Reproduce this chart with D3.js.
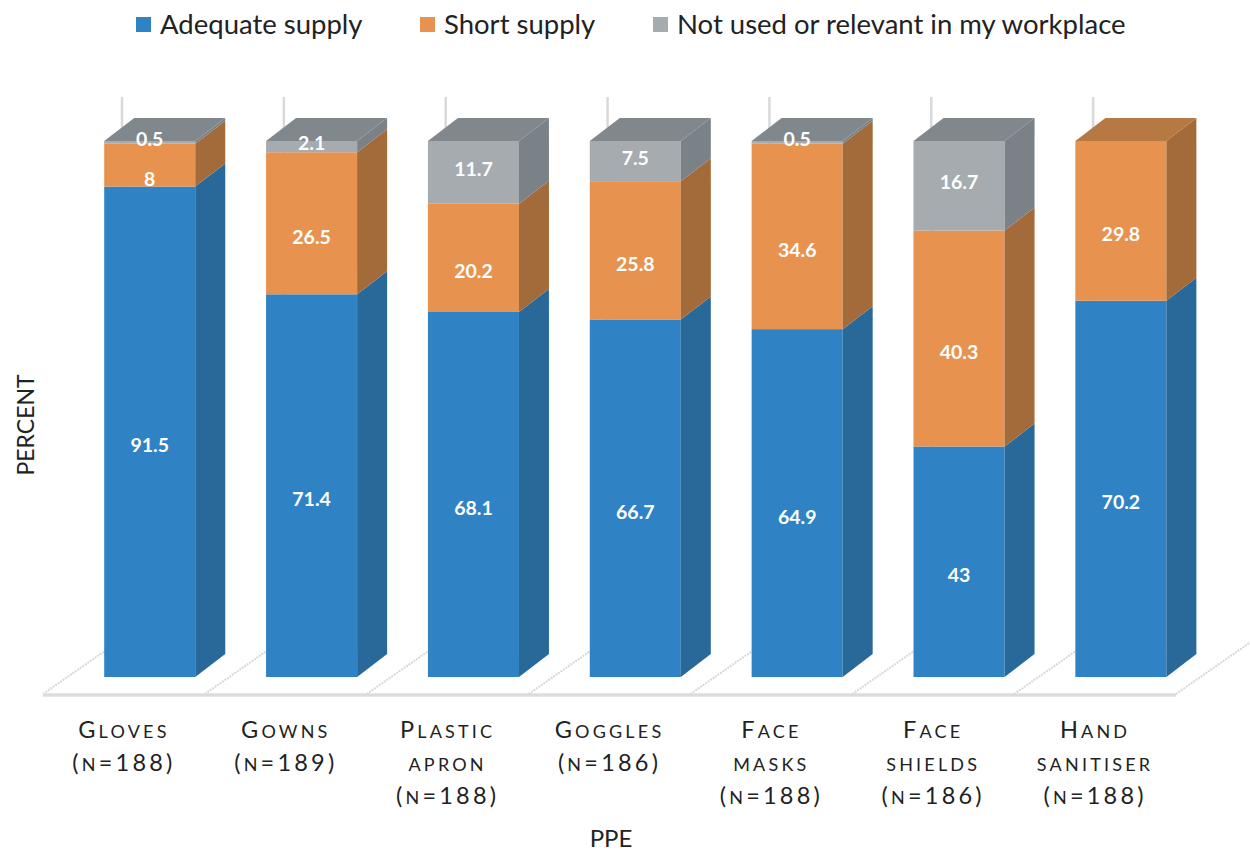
<!DOCTYPE html>
<html>
<head>
<meta charset="utf-8">
<script src="https://cdn.jsdelivr.net/npm/d3@7"></script>
<style>
  html, body { margin: 0; padding: 0; background: #fff; }
  svg { display: block; font-family: Lato, "Open Sans", sans-serif; }
</style>
</head>
<body>
<div id="chart"></div>
<script>
// PPE supply, percent of respondents
const categories = ["Gloves", "Gowns", "Plastic apron", "Goggles", "Face masks", "Face shields", "Hand sanitiser"];
const categoryLines = [
  ["Gloves", "(n=188)"],
  ["Gowns", "(n=189)"],
  ["Plastic", "apron", "(n=188)"],
  ["Goggles", "(n=186)"],
  ["Face", "masks", "(n=188)"],
  ["Face", "shields", "(n=186)"],
  ["Hand", "sanitiser", "(n=188)"]
];
const seriesNames = ["Adequate supply", "Short supply", "Not used or relevant in my workplace"];
const adequate = [91.5, 71.4, 68.1, 66.7, 64.9, 43, 70.2];
const shortSupply = [8, 26.5, 20.2, 25.8, 34.6, 40.3, 29.8];
const notUsed = [0.5, 2.1, 11.7, 7.5, 0.5, 16.7, 0];

const width = 1250, height = 851;

// face colours per series: front, side, top
const palette = [
  { front: "#2f83c5", side: "#29699a", top: "#2a71a9" },
  { front: "#e8924f", side: "#a36b3a", top: "#b67944" },
  { front: "#a6abb0", side: "#7b8287", top: "#80878d" }
];
const labelNudge = [13, 13, -4];

const svg = d3.select("#chart").append("svg")
  .attr("width", width)
  .attr("height", height)
  .attr("viewBox", [0, 0, width, height]);

// floor spans the category band, bars sit part way into its depth
const floorFront = 695;
const floorDepth = { dx: 79, dy: -55 };
const barDepth = { dx: 30, dy: -23 };
const barInset = 25.8;

const x = d3.scaleBand()
  .domain(categories)
  .range([43, 1176])
  .paddingInner(0);
const barWidth = x.bandwidth() * 0.5625;

const y = d3.scaleLinear()
  .domain([0, 100])
  .range([677, 141]);

const data = categories.map((c, i) => {
  const vals = [adequate[i], shortSupply[i], notUsed[i]];
  let acc = 0;
  const segs = vals.map((v, s) => {
    const seg = { series: s, value: v, y0: acc, y1: acc + v };
    acc += v;
    return seg;
  });
  return { category: c, segs };
});

// back wall gridlines (mostly hidden behind bars)
svg.append("g")
  .selectAll("line")
  .data(categories)
  .join("line")
  .attr("x1", d => x(d) + floorDepth.dx)
  .attr("x2", d => x(d) + floorDepth.dx)
  .attr("y1", 97)
  .attr("y2", floorFront + floorDepth.dy)
  .attr("stroke", "#d7d9dc")
  .attr("stroke-width", 2.5);

// floor
const floor = svg.append("g");
floor.selectAll("line.div")
  .data(d3.range(categories.length + 1))
  .join("line")
  .attr("class", "div")
  .attr("x1", i => x.range()[0] + i * x.bandwidth())
  .attr("y1", floorFront - 1)
  .attr("x2", i => x.range()[0] + i * x.bandwidth() + floorDepth.dx)
  .attr("y2", floorFront - 1 + floorDepth.dy)
  .attr("stroke", "#d8d8d8")
  .attr("stroke-width", 2)
  .attr("stroke-dasharray", "2 1");
floor.append("line")
  .attr("x1", x.range()[0])
  .attr("x2", x.range()[1])
  .attr("y1", floorFront)
  .attr("y2", floorFront)
  .attr("stroke", "#dcdcdc")
  .attr("stroke-width", 3.5);

// bars
const bars = svg.append("g")
  .selectAll("g.bar")
  .data(data)
  .join("g")
  .attr("class", "bar");

bars.each(function(d) {
  const g = d3.select(this);
  const x0 = x(d.category) + (x.bandwidth() - barWidth) / 2 + barInset;
  const x1 = x0 + barWidth;
  const segs = d.segs.filter(s => s.value > 0);

  segs.forEach(s => {
    const c = palette[s.series];
    const yb = y(s.y0), yt = y(s.y1);
    g.append("rect")
      .attr("x", x0)
      .attr("y", yt)
      .attr("width", barWidth)
      .attr("height", yb - yt)
      .attr("fill", c.front);
    g.append("path")
      .attr("d", `M${x1},${yb}L${x1 + barDepth.dx},${yb + barDepth.dy}L${x1 + barDepth.dx},${yt + barDepth.dy}L${x1},${yt}Z`)
      .attr("fill", c.side);
  });

  const top = segs[segs.length - 1];
  const yt = y(top.y1);
  g.append("path")
    .attr("d", `M${x0},${yt}L${x0 + barDepth.dx},${yt + barDepth.dy}L${x1 + barDepth.dx},${yt + barDepth.dy}L${x1},${yt}Z`)
    .attr("fill", palette[top.series].top);

  segs.forEach(s => {
    g.append("text")
      .attr("x", (x0 + x1) / 2)
      .attr("y", (y(s.y0) + y(s.y1)) / 2 + labelNudge[s.series])
      .attr("text-anchor", "middle")
      .attr("dominant-baseline", "central")
      .attr("fill", "#fff")
      .attr("font-size", 19.5)
      .attr("font-weight", "bold")
      .text(s.value);
  });
});

// category labels in small caps
function smallCapRuns(word) {
  const runs = [];
  [...word].forEach(ch => {
    const small = /[a-z]/.test(ch);
    const txt = ch.toUpperCase();
    const last = runs[runs.length - 1];
    if (last && last.small === small) last.text += txt;
    else runs.push({ small, text: txt });
  });
  return runs;
}

const ticks = svg.append("g")
  .selectAll("text.tick")
  .data(categories)
  .join("text")
  .attr("class", "tick")
  .attr("text-anchor", "middle")
  .attr("fill", "#222")
  .attr("letter-spacing", 3.2);

ticks.each(function(c, i) {
  const t = d3.select(this);
  const cx = x(c) + x.bandwidth() / 2;
  categoryLines[i].forEach((line, li) => {
    const runs = smallCapRuns(line);
    runs.forEach((r, ri) => {
      const ts = t.append("tspan")
        .attr("font-size", r.small ? 18 : 23.5)
        .text(r.text);
      if (ri === 0) ts.attr("x", cx).attr("y", 738 + li * 33);
    });
  });
});

// axis titles
svg.append("text")
  .attr("transform", "translate(34,425) rotate(-90)")
  .attr("text-anchor", "middle")
  .attr("font-size", 23)
  .attr("fill", "#222")
  .text("PERCENT");

svg.append("text")
  .attr("x", 611)
  .attr("y", 847)
  .attr("text-anchor", "middle")
  .attr("font-size", 24)
  .attr("fill", "#222")
  .text("PPE");

// legend
const legendX = [136, 420, 653];
const legend = svg.append("g")
  .selectAll("g.legend")
  .data(seriesNames)
  .join("g")
  .attr("class", "legend")
  .attr("transform", (d, i) => `translate(${legendX[i]},17)`);
legend.append("rect")
  .attr("width", 15)
  .attr("height", 15)
  .attr("fill", (d, i) => palette[i].front);
legend.append("text")
  .attr("x", 24)
  .attr("y", 17)
  .attr("font-size", 27.5)
  .attr("fill", "#222")
  .text(d => d);
</script>
</body>
</html>
